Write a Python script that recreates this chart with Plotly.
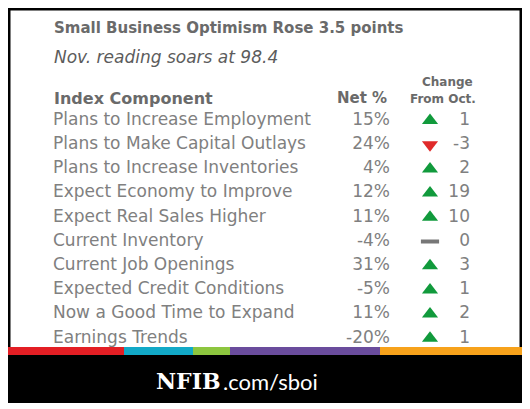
import plotly.graph_objects as go

# ---- data ----
components = [
    "Plans to Increase Employment",
    "Plans to Make Capital Outlays",
    "Plans to Increase Inventories",
    "Expect Economy to Improve",
    "Expect Real Sales Higher",
    "Current Inventory",
    "Current Job Openings",
    "Expected Credit Conditions",
    "Now a Good Time to Expand",
    "Earnings Trends",
]
net_pct = [15, 24, 4, 12, 11, -4, 31, -5, 11, -20]
change_from_oct = [1, -3, 2, 19, 10, 0, 3, 1, 2, 1]

title = "Small Business Optimism Rose 3.5 points"
subtitle = "Nov. reading soars at 98.4"
bar_colors = ["#e31e24", "#12a9c7", "#8dc63f", "#6a4c9c", "#f7a21b"]

# ---- layout helpers ----
W, H = 530, 409
OFF = 8  # page body margin
FONT = "DejaVu Sans"
LABEL_C = "#808080"
HEAD_C = "#6a6a6a"


def px(x):
    return (x - OFF) / W


def py(y):
    return 1 - (y - OFF) / H


def dx(x):
    return x - OFF


row0, row_step = 120.5 - OFF, 24.2
rows = list(range(len(components)))
y_top = (0 - row0) / row_step
y_bot = (H - row0) / row_step

sym, col, lw, msz = [], [], [], []
for c in change_from_oct:
    if c > 0:
        sym.append("triangle-up"); col.append("#119a3c"); lw.append(0); msz.append(14)
    elif c < 0:
        sym.append("triangle-down"); col.append("#e02a2a"); lw.append(0); msz.append(14)
    else:
        sym.append("line-ew"); col.append("#777777"); lw.append(4); msz.append(13)

fig = go.Figure()
fig.add_trace(go.Scatter(
    x=[dx(53)] * len(rows), y=rows, mode="text", text=components,
    textposition="middle right",
    textfont=dict(family=FONT, size=17, color=LABEL_C), hoverinfo="skip"))
fig.add_trace(go.Scatter(
    x=[dx(390)] * len(rows), y=rows, mode="text",
    text=[f"{v}%" for v in net_pct], textposition="middle left",
    textfont=dict(family=FONT, size=17, color=LABEL_C), hoverinfo="skip"))
fig.add_trace(go.Scatter(
    x=[dx(470)] * len(rows), y=rows, mode="text",
    text=[str(v) for v in change_from_oct], textposition="middle left",
    textfont=dict(family=FONT, size=17, color=LABEL_C), hoverinfo="skip"))
fig.add_trace(go.Scatter(
    x=[dx(430)] * len(rows), y=rows, mode="markers",
    marker=dict(symbol=sym, size=msz, color=col, opacity=1,
                line=dict(width=lw, color=col)),
    hoverinfo="skip"))

shapes = []
# black frame
shapes.append(dict(type="rect", xref="paper", yref="paper", x0=px(8), x1=px(522),
                   y0=py(403), y1=py(8), fillcolor="#000000", line=dict(width=0), layer="below"))
shapes.append(dict(type="rect", xref="paper", yref="paper", x0=px(10.5), x1=px(519.5),
                   y0=py(347), y1=py(10.5), fillcolor="#ffffff", line=dict(width=0), layer="below"))
# colored strip
edges = [8, 124, 193, 230, 380, 522]
for i, c in enumerate(bar_colors):
    shapes.append(dict(type="rect", xref="paper", yref="paper", x0=px(edges[i]), x1=px(edges[i + 1]),
                       y0=py(355), y1=py(347), fillcolor=c, line=dict(width=0), layer="below"))

ann = []
ann.append(dict(text=f"<b>{title}</b>", x=px(52), y=py(28), xanchor="left", yanchor="middle",
                font=dict(family=FONT, size=15, color=HEAD_C)))
ann.append(dict(text=f"<i>{subtitle}</i>", x=px(52), y=py(57), xanchor="left", yanchor="middle",
                font=dict(family=FONT, size=17, color="#5c5c5c")))
ann.append(dict(text="<b>Index Component</b>", x=px(52), y=py(98), xanchor="left", yanchor="middle",
                font=dict(family=FONT, size=16, color=HEAD_C)))
ann.append(dict(text="<b>Net %</b>", x=px(389), y=py(98), xanchor="right", yanchor="middle",
                font=dict(family=FONT, size=15, color=HEAD_C)))
ann.append(dict(text="<b>Change</b>", x=px(447), y=py(82), xanchor="center", yanchor="middle",
                font=dict(family=FONT, size=12, color=HEAD_C)))
ann.append(dict(text="<b>From Oct.</b>", x=px(443), y=py(99), xanchor="center", yanchor="middle",
                font=dict(family=FONT, size=12, color=HEAD_C)))
ann.append(dict(text="<b>NFIB</b>", x=px(223), y=py(381), xanchor="right", yanchor="middle",
                font=dict(family="DejaVu Serif", size=22, color="#ffffff")))
ann.append(dict(text=".com/sboi", x=px(221), y=py(381), xanchor="left", yanchor="middle",
                font=dict(family="Lato", size=22, color="#ffffff")))
for a in ann:
    a.update(xref="paper", yref="paper", showarrow=False)

fig.update_layout(
    width=W, height=H, margin=dict(l=0, r=0, t=0, b=0),
    paper_bgcolor="#ffffff", plot_bgcolor="rgba(0,0,0,0)",
    showlegend=False, shapes=shapes, annotations=ann,
    xaxis=dict(range=[0, W], visible=False, fixedrange=True),
    yaxis=dict(range=[y_bot, y_top], visible=False, fixedrange=True),
)
fig.write_html("out.html")
